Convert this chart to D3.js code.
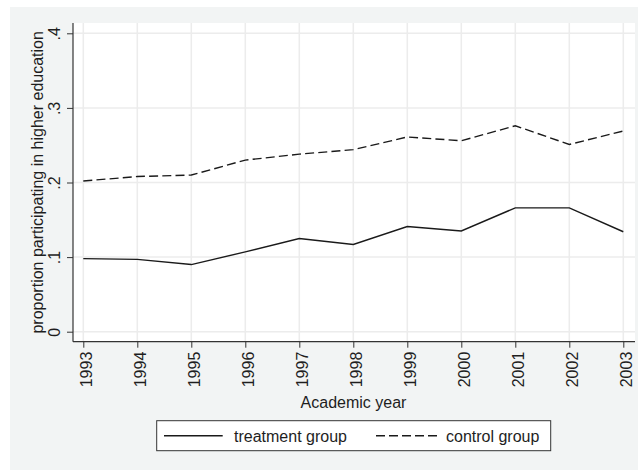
<!DOCTYPE html>
<html>
<head>
<meta charset="utf-8">
<script src="https://cdn.jsdelivr.net/npm/d3@7"></script>
<style>
  html, body { margin: 0; padding: 0; background: #ffffff; }
  svg { display: block; }
  text { font-family: "Liberation Sans", Arial, Helvetica, sans-serif; fill: #1e1e1e; }
</style>
</head>
<body>
<svg id="chart" width="638" height="470"></svg>
<script>
const years = [1993, 1994, 1995, 1996, 1997, 1998, 1999, 2000, 2001, 2002, 2003];
const treatment = [0.098, 0.097, 0.090, 0.107, 0.125, 0.117, 0.141, 0.135, 0.166, 0.166, 0.134];
const control = [0.202, 0.208, 0.210, 0.230, 0.238, 0.244, 0.261, 0.256, 0.276, 0.251, 0.269];
const yTicks = [0, 0.1, 0.2, 0.3, 0.4];
const yTickLabels = ["0", ".1", ".2", ".3", ".4"];
const xTickLabels = years.map(String);
const seriesNames = ["treatment group", "control group"];
const yTitle = "proportion participating in higher education";
const xTitle = "Academic year";

const svg = d3.select("#chart");
const W = 638, H = 470;
const plot = { left: 73, right: 635, top: 23, bottom: 341.7 };

const x = d3.scaleLinear().domain([1993, 2003]).range([83.3, 623.3]);
const y = d3.scaleLinear().domain([0, 0.4]).range([331.7, 33.3]);

// graph region background
svg.append("rect").attr("x", 10).attr("y", 7).attr("width", W - 10).attr("height", H - 7)
  .attr("fill", "#f2f4f4");
// plot region
svg.append("rect").attr("x", plot.left).attr("y", plot.top)
  .attr("width", plot.right - plot.left).attr("height", plot.bottom - plot.top)
  .attr("fill", "#ffffff");

// grid
const grid = svg.append("g").attr("stroke", "#ececec").attr("stroke-width", 1.5);
grid.selectAll("line.h").data(yTicks).join("line").attr("class", "h")
  .attr("x1", plot.left).attr("x2", plot.right)
  .attr("y1", d => y(d)).attr("y2", d => y(d));
grid.selectAll("line.v").data(years).join("line").attr("class", "v")
  .attr("x1", d => x(d)).attr("x2", d => x(d))
  .attr("y1", plot.top).attr("y2", plot.bottom);

// y axis
const yAxis = svg.append("g").attr("transform", `translate(${plot.left},0)`)
  .call(d3.axisLeft(y).tickValues(yTicks).tickFormat((d, i) => yTickLabels[i]).tickSize(6).tickSizeOuter(0));
yAxis.select(".domain").remove();
yAxis.selectAll(".tick line").attr("stroke", "#333");
yAxis.selectAll(".tick text")
  .attr("x", null).attr("dy", null)
  .attr("text-anchor", "middle")
  .attr("transform", "translate(-13,0) rotate(-90)")
  .attr("font-size", 16).attr("fill", "#1e1e1e")
  .style("font-family", '"Liberation Sans", Arial, sans-serif');
svg.append("line").attr("x1", plot.left).attr("x2", plot.left)
  .attr("y1", plot.top).attr("y2", plot.bottom).attr("stroke", "#333").attr("stroke-width", 1.2);

// x axis
const xAxis = svg.append("g").attr("transform", `translate(0,${plot.bottom})`)
  .call(d3.axisBottom(x).tickValues(years).tickFormat((d, i) => xTickLabels[i]).tickSize(6).tickSizeOuter(0));
xAxis.select(".domain").remove();
xAxis.selectAll(".tick line").attr("stroke", "#333");
xAxis.selectAll(".tick text")
  .attr("y", null).attr("dy", null)
  .attr("text-anchor", "end")
  .attr("transform", "translate(8.5,10) rotate(-90)")
  .attr("font-size", 16).attr("fill", "#1e1e1e")
  .style("font-family", '"Liberation Sans", Arial, sans-serif');
svg.append("line").attr("x1", plot.left).attr("x2", plot.right)
  .attr("y1", plot.bottom).attr("y2", plot.bottom).attr("stroke", "#333").attr("stroke-width", 1.2);

// titles
svg.append("text").attr("transform", `translate(43,${(plot.top + plot.bottom) / 2}) rotate(-90)`)
  .attr("text-anchor", "middle").attr("font-size", 16).text(yTitle);
svg.append("text").attr("x", 353.5).attr("y", 408.3)
  .attr("text-anchor", "middle").attr("font-size", 16).text(xTitle);

// lines
const line = d3.line().x((d, i) => x(years[i])).y(d => y(d));
svg.append("path").datum(treatment).attr("d", line)
  .attr("fill", "none").attr("stroke", "#1a1a1a").attr("stroke-width", 1.4);
svg.append("path").datum(control).attr("d", line)
  .attr("fill", "none").attr("stroke", "#1a1a1a").attr("stroke-width", 1.4)
  .attr("stroke-dasharray", "9,4.2");

// legend
const lg = svg.append("g");
lg.append("rect").attr("x", 156.7).attr("y", 420.7).attr("width", 394).attr("height", 30)
  .attr("fill", "#ffffff").attr("stroke", "#333").attr("stroke-width", 1);
lg.append("line").attr("x1", 164).attr("x2", 222.7).attr("y1", 435.7).attr("y2", 435.7)
  .attr("stroke", "#1a1a1a").attr("stroke-width", 1.4);
lg.append("text").attr("x", 234).attr("y", 441.5).attr("font-size", 16).text(seriesNames[0]);
lg.append("line").attr("x1", 376).attr("x2", 437).attr("y1", 435.7).attr("y2", 435.7)
  .attr("stroke", "#1a1a1a").attr("stroke-width", 1.4).attr("stroke-dasharray", "9,4");
lg.append("text").attr("x", 446).attr("y", 441.5).attr("font-size", 16).text(seriesNames[1]);
</script>
</body>
</html>
